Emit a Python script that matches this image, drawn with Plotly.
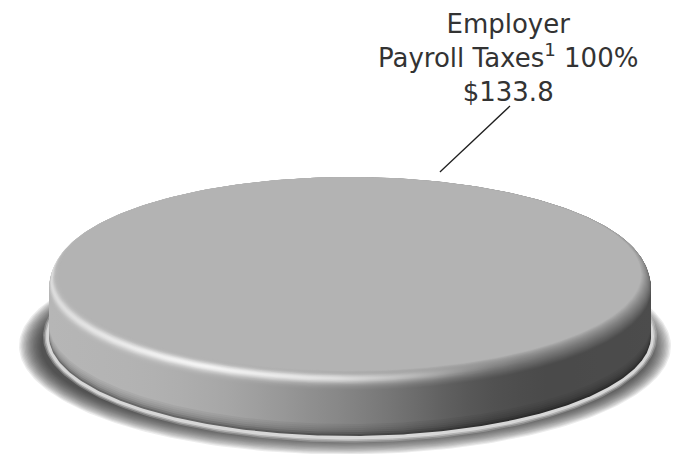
import numpy as np
import plotly.graph_objects as go

# ---- data -------------------------------------------------------------
label_lines = ["Employer", "Payroll Taxes"]
label_note = "1"
values = [133.8]

total = sum(values)
shares = [v / total for v in values]

# ---- drawing geometry (pixel space of the page) -----------------------
W, H = 673, 454
CX, CY0 = 350.0, 336.0       # centre of the disc's base ellipse
R = 301.0                    # outer radius (horizontal)
K = 0.3322                   # vertical squash of the tilted disc
SIDE_H = 46.0                # straight part of the rim
BEV_R, BEV_V = 10.0, 16.0    # rounded top edge
FACE = 179                   # grey of the flat top face

# slice angle span, derived from its share of the total
a0 = 0.0
a1 = 2 * np.pi * shares[0]


def ellipse(r, z, t):
    return CX + r * np.cos(t), CY0 - z + K * r * np.sin(t)


def band(r_lo, z_lo, r_hi, z_hi, n=220):
    """Outline of the solid swept between two horizontal circles."""
    tf = np.linspace(max(a0, 0), min(a1, np.pi), n)          # front half of lower ring
    tb = np.linspace(np.pi, min(a1, 2 * np.pi), n)           # back half of upper ring
    x1, y1 = ellipse(r_lo, z_lo, tf)
    x2, y2 = ellipse(r_hi, z_hi, tb)
    return np.r_[x1, x2, x1[:1]], np.r_[y1, y2, y1[:1]]


def interp(stops, x):
    xs, vs = zip(*stops)
    return np.interp(x, xs, vs)


SIDE_STOPS = [(49, 182), (150, 178), (220, 168), (280, 152), (330, 138),
              (380, 122), (420, 106), (460, 90), (500, 79), (550, 74), (652, 76)]
GLOSS_STOPS = [(49, 38), (120, 55), (200, 70), (330, 68), (420, 40),
               (480, 8), (530, 0), (652, 0)]

XS = np.linspace(CX - R, CX + R, 24)


def grey(v):
    v = int(np.clip(round(v), 0, 255))
    return f"rgb({v},{v},{v})"


def scale_for(fn):
    vals = fn(XS)
    pos = (XS - XS[0]) / (XS[-1] - XS[0])
    return [[float(p), grey(v)] for p, v in zip(pos, vals)]


fig = go.Figure()


def add_poly(x, y, color=None, gradient=None):
    kw = dict(x=x, y=y, mode="lines", fill="toself", line=dict(width=0),
              hoverinfo="skip", showlegend=False)
    if gradient is not None:
        kw["fillgradient"] = dict(type="horizontal", colorscale=gradient,
                                  start=float(XS[0]), stop=float(XS[-1]))
    else:
        kw["fillcolor"] = color
    fig.add_trace(go.Scatter(**kw))


tt = np.linspace(0, 2 * np.pi, 260)

# ---- soft floor shadow ------------------------------------------------
SCX, SCY, SRX, SRY = 345.0, 346.0, 316.0, 100.0
for d in np.linspace(10, -12, 17):
    rx = SRX + d
    ry = SRY + d * 0.85
    add_poly(SCX + rx * np.cos(tt), SCY + ry * np.sin(tt), "rgba(45,45,45,0.09)")

# thin light gap between the disc and its shadow
for d, a in [(6, 0.3), (4.5, 0.5), (3, 0.85)]:
    rx = R + d
    add_poly(CX + rx * np.cos(tt), CY0 + 0.5 + (K * R + d) * np.sin(tt),
             f"rgba(222,222,222,{a})")

# ---- rim, bottom edge darkened --------------------------------------
rim = [(0, 2, 0.58), (2, 4, 0.7), (4, 6, 0.8), (6, 8, 0.86), (8, 10, 0.91),
       (10, 12, 0.95), (12, SIDE_H, 1.0)]
for z_lo, z_hi, f in rim:
    x, y = band(R, z_lo, R, z_hi)
    add_poly(x, y, gradient=scale_for(lambda xx, f=f: interp(SIDE_STOPS, xx) * f))

# ---- rounded top edge ------------------------------------------------
N_BEV = 26
ths = np.linspace(0, np.pi / 2, N_BEV + 1)
for i in range(N_BEV):
    th_lo, th_hi = ths[i], ths[i + 1]
    tm = 0.5 * (th_lo + th_hi) / (np.pi / 2)
    r_lo = R - BEV_R * (1 - np.cos(th_lo))
    r_hi = R - BEV_R * (1 - np.cos(th_hi))
    z_lo = SIDE_H + BEV_V * np.sin(th_lo)
    z_hi = SIDE_H + BEV_V * np.sin(th_hi)
    gloss = np.exp(-((tm - 0.45) / 0.2) ** 2)

    def shade(xx, tm=tm, gloss=gloss):
        base = interp(SIDE_STOPS, xx) * (1 - tm) + FACE * tm
        return base + interp(GLOSS_STOPS, xx) * gloss

    x, y = band(r_lo, z_lo, r_hi, z_hi)
    add_poly(x, y, gradient=scale_for(shade))

# ---- flat top face ---------------------------------------------------
R_TOP = R - BEV_R
Z_TOP = SIDE_H + BEV_V
tf = np.linspace(a0, a1, 260)
xf, yf = ellipse(R_TOP, Z_TOP, tf)
add_poly(xf, yf, grey(FACE))

# ---- leader line and label ------------------------------------------
LEAD_ANG = -np.deg2rad(72)
lx0, ly0 = ellipse(R_TOP, Z_TOP, LEAD_ANG)
ly0 -= 10
LABEL_X, LABEL_Y = 508.0, 58.0
fig.add_trace(go.Scatter(x=[lx0, LABEL_X + 2], y=[ly0, 106], mode="lines",
                         line=dict(color="#1e1e1e", width=1.3),
                         hoverinfo="skip", showlegend=False))

label = (f"{label_lines[0]}<br>{label_lines[1]}<sup>{label_note}</sup> "
         f"{shares[0] * 100:.0f}%<br>${values[0]:.1f}")
fig.add_annotation(x=LABEL_X, y=LABEL_Y, text=label, showarrow=False,
                   xanchor="center", yanchor="middle", align="center",
                   font=dict(family="DejaVu Sans", size=26, color="#333333"))

fig.update_xaxes(range=[0, W], visible=False, fixedrange=True)
fig.update_yaxes(range=[H, 0], visible=False, fixedrange=True)
fig.update_layout(width=W, height=H, margin=dict(l=0, r=0, t=0, b=0),
                  paper_bgcolor="white", plot_bgcolor="white")

fig.write_html("out.html")
